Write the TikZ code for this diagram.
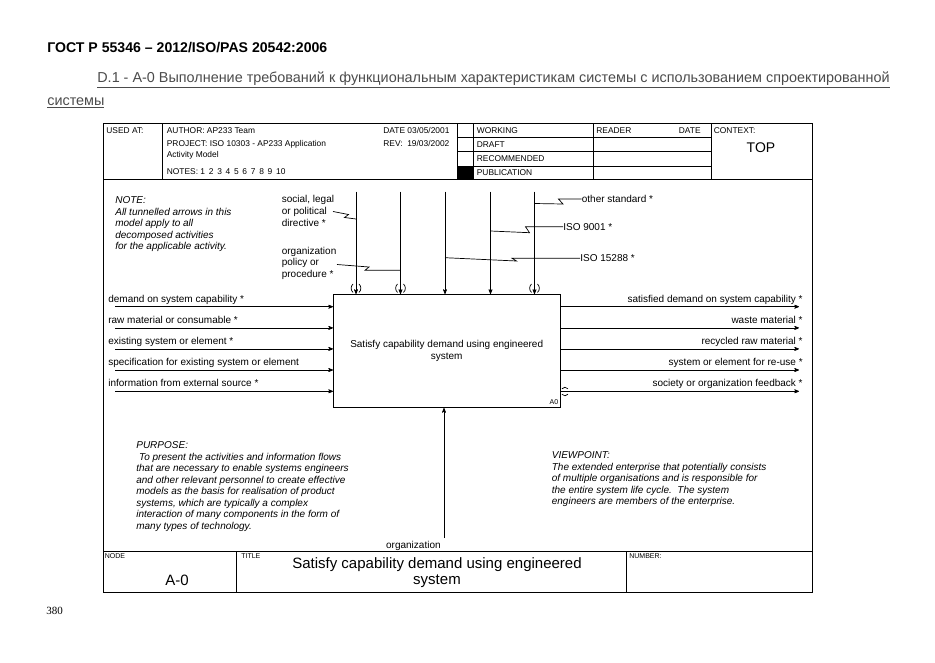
\documentclass[tikz,border=0pt]{standalone}
\usepackage{fontspec}
\setmainfont{Liberation Sans}
\newfontfamily\pagefont{Liberation Serif}
\usetikzlibrary{arrows}
\newcommand\labfont{\fontsize{10}{11.7}\selectfont}
\newcommand\formfont{\fontsize{8.4}{9.5}\selectfont}
\newcommand\tinyfont{\fontsize{7}{8}\selectfont}
\newcommand\bigfont{\fontsize{15}{16.7}\selectfont}
\newcommand\notefont{\fontsize{10}{11.5}\selectfont\itshape}
\definecolor{head_gray}{RGB}{75,75,75}

\begin{document}
\begin{tikzpicture}[x=1pt,y=-1pt,line width=0.7pt,>=stealth']
    \tikzstyle{lab}=[font=\labfont, inner sep=0pt, anchor=base west]
    \tikzstyle{rlab}=[style=lab, anchor=base east]
    \tikzstyle{form}=[font=\formfont, inner sep=0pt, anchor=base west]
    \tikzstyle{tag}=[font=\tinyfont, inner sep=0pt, anchor=base west]
    \tikzstyle{remark}=[font=\notefont, inner sep=0pt, anchor=north west, align=left]
    \tikzstyle{act}=[draw, minimum width=226.7pt, minimum height=113.4pt, inner sep=0pt, font=\labfont, align=center]
    \tikzstyle{flow}=[->]

    \useasboundingbox (0,0) rectangle (935,662);

    % page heading
    \node[anchor=west, inner sep=0pt, font=\fontsize{14.1}{16}\selectfont\bfseries] (gost) at (47,48) {ГОСТ Р 55346 – 2012/ISO/PAS 20542:2006};
    \node[anchor=west, inner sep=0pt, text=head_gray, font=\fontsize{14.4}{16}\selectfont] (cap1) at (97,80) {\underline{D.1 - A-0 Выполнение требований к функциональным характеристикам системы с использованием спроектированной}};
    \node[anchor=west, inner sep=0pt, text=head_gray, font=\fontsize{14.4}{16}\selectfont] (cap2) at (47,103) {\underline{системы}};
    \node[anchor=west, inner sep=0pt, font={\fontsize{11}{13}\pagefont}] (pg) at (46,611) {380};

    % frame and form rules
    \draw (103,123) rectangle (812,592.3);
    \draw (103,179.3) -- (812,179.3);
    \foreach \x in {162.7,457,473,593,711}
        \draw (\x,123) -- (\x,179.3);
    \foreach \y in {137.7,151.7,166}
        \draw (457,\y) -- (711,\y);
    \fill (457,166) rectangle (473,179.3);
    \draw (103,551.7) -- (812,551.7);
    \draw (236.7,551.7) -- (236.7,592.3);
    \draw (626,551.7) -- (626,592.3);

    % top form
    \node[form] (used) at (106,133.3) {USED AT:};
    \node[form] (auth) at (166.5,133.3) {AUTHOR: AP233 Team};
    \node[form] (proj) at (166.5,146.5) {PROJECT: ISO 10303 - AP233 Application};
    \node[form] (actm) at (166.5,157) {Activity Model};
    \node[form] (nts) at (166.5,174.8) {NOTES: 1\, 2\, 3\, 4\, 5\, 6\, 7\, 8\, 9\, 10};
    \node[form] (date) at (383,133.3) {DATE 03/05/2001};
    \node[form] (rev) at (383,146.5) {REV:\ \ 19/03/2002};
    \node[form] (wrk) at (476.5,133.3) {WORKING};
    \node[form] (drf) at (476.5,147.6) {DRAFT};
    \node[form] (rec) at (476.5,161.8) {RECOMMENDED};
    \node[form] (pub) at (476.5,175.6) {PUBLICATION};
    \node[form] (rdr) at (596,133.3) {READER};
    \node[form, anchor=base east] (rdate) at (701,133.3) {DATE};
    \node[form] (ctx) at (713.5,133.3) {CONTEXT:};
    \node[inner sep=0pt, font=\fontsize{14}{16}\selectfont] (top) at (761,148) {TOP};

    % bottom form
    \node[tag] (nodetag) at (104.5,558.5) {NODE};
    \node[tag] (titletag) at (241,558.5) {TITLE};
    \node[tag] (numtag) at (629,558.5) {NUMBER:};
    \node[inner sep=0pt, font=\bigfont] (nodeno) at (177,580) {A-0};
    \node[inner sep=0pt, font=\bigfont, align=center] (title) at (437,572.5) {Satisfy capability demand using engineered\\system};

    % activity box
    \node[act] (box) at (446.7,351) {Satisfy capability demand using engineered\\system};
    \node[tag, anchor=base east] (a0) at (558.5,404.3) {A0};

    % notes
    \node[remark] (nte) at (115,196.4) {NOTE:\\All tunnelled arrows in this\\model apply to all\\decomposed activities\\for the applicable activity.};
    \node[remark] (purp) at (136,441.4) {PURPOSE:\\\ To present the activities and information flows\\that are necessary to enable systems engineers\\and other relevant personnel to create effective\\models as the basis for realisation of product\\systems, which are typically a complex\\interaction of many components in the form of\\many types of technology.};
    \node[remark] (vwp) at (551.5,451.4) {VIEWPOINT:\\The extended enterprise that potentially consists\\of multiple organisations and is responsible for\\the entire system life cycle.\ \ The system\\engineers are members of the enterprise.};

    % controls
    \foreach \n/\x in {1/356,2/400.5,3/445,4/490.5,5/534.5} {
        \coordinate (ctl\n) at (\x,191.5);
        \draw[flow] (ctl\n) -- (ctl\n |- box.north);
    }
    \foreach \n in {1,2,5} {
        \draw ([shift={(-3,-10)}]ctl\n |- box.north) .. controls ([shift={(-5.5,-7.5)}]ctl\n |- box.north) and ([shift={(-5.5,-4)}]ctl\n |- box.north) .. ([shift={(-3,-1.5)}]ctl\n |- box.north);
        \draw ([shift={(3,-10)}]ctl\n |- box.north) .. controls ([shift={(5.5,-7.5)}]ctl\n |- box.north) and ([shift={(5.5,-4)}]ctl\n |- box.north) .. ([shift={(3,-1.5)}]ctl\n |- box.north);
    }

    \node[lab, anchor=north west, align=left] (soc) at (281.5,195) {social, legal\\or political\\directive *};
    \node[lab, anchor=north west, align=left] (pol) at (281.5,246.5) {organization\\policy or\\procedure *};
    \node[lab] (oth) at (581.5,202.6) {other standard *};
    \node[lab] (iso9) at (563,230.2) {ISO 9001 *};
    \node[lab] (iso15) at (580,261.7) {ISO 15288 *};

    \coordinate (psoc) at (333,211.5);
    \coordinate (jsoc) at (ctl1 |- 0,219);
    \coordinate (ppol) at (337,264.5);
    \coordinate (jpol) at (ctl2 |- 0,270.3);
    \coordinate (joth) at (ctl5 |- 0,203.5);
    \coordinate (jiso9) at (ctl4 |- 0,231);
    \coordinate (jiso15) at (ctl3 |- 0,257.7);
    \draw (psoc) -- (348.5,214.5) -- (344.5,217.5) -- (jsoc);
    \draw (ppol) -- (369,267) -- (365,270.3) -- (jpol);
    \draw (joth) -- (563,204) -- (558.5,0 |- oth.west) -- (oth.west);
    \draw (jiso9) -- (529.5,232.7) -- (525.5,0 |- iso9.west) -- (iso9.west);
    \draw (jiso15) -- (516.5,261) -- (512,0 |- iso15.west) -- (iso15.west);

    % inputs
    \foreach \n/\y/\t in {1/306.7/{demand on system capability *},2/327.9/{raw material or consumable *},3/348.9/{existing system or element *},4/370/{specification for existing system or element},5/391.3/{information from external source *}} {
        \coordinate (in\n) at (115,\y);
        \draw[flow] (in\n) -- (in\n -| box.west);
        \node[lab] (inl\n) at (108,\y-4.5) {\t};
    }

    % outputs
    \foreach \n/\y/\t in {1/306.7/{satisfied demand on system capability *},2/327.9/{waste material *},3/348.9/{recycled raw material *},4/370/{system or element for re-use *},5/391.3/{society or organization feedback *}} {
        \coordinate (out\n) at (799,\y);
        \draw[flow] (out\n -| box.east) -- (out\n);
        \node[rlab] (outl\n) at (803,\y-4.5) {\t};
    }
    \draw ([shift={(1.5,-2.5)}]out5 -| box.east) .. controls ([shift={(3,-4.5)}]out5 -| box.east) and ([shift={(6,-4.5)}]out5 -| box.east) .. ([shift={(7.5,-2.5)}]out5 -| box.east);
    \draw ([shift={(1.5,3)}]out5 -| box.east) .. controls ([shift={(3,5)}]out5 -| box.east) and ([shift={(6,5)}]out5 -| box.east) .. ([shift={(7.5,3)}]out5 -| box.east);

    % mechanism
    \coordinate (mech) at (444,538);
    \draw[flow] (mech) -- (mech |- box.south);
    \node[lab, anchor=base east] (org) at (441,548) {organization};
\end{tikzpicture}
\end{document}
